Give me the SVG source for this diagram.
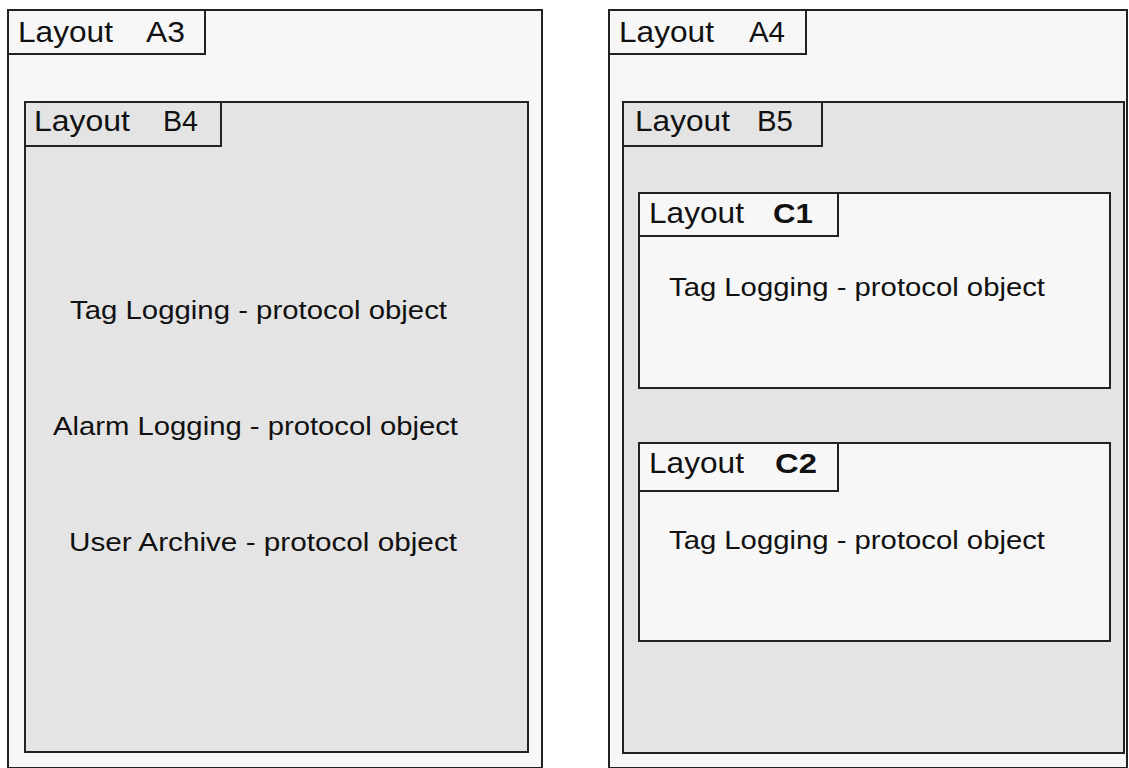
<svg xmlns="http://www.w3.org/2000/svg" width="1129" height="768" viewBox="0 0 1129 768">
<style>
.outer{fill:#f7f7f7;stroke:#222;stroke-width:2}
.mid{fill:#e4e4e4;stroke:#222;stroke-width:2}
.inner{fill:#f7f7f7;stroke:#222;stroke-width:2}
.lbl{font-family:"Liberation Sans",Arial,sans-serif;font-size:29px;fill:#111}
.lblb{font-family:"Liberation Sans",Arial,sans-serif;font-size:28px;font-weight:bold;fill:#111}
.body{font-family:"Liberation Sans",Arial,sans-serif;font-size:26.5px;fill:#111}
</style>
<rect width="1129" height="768" fill="#ffffff"/>
<g id="layoutA3">
<rect class="outer" x="8" y="10" width="534" height="758"/>
<rect class="outer" x="8" y="10" width="197" height="44"/>
<text class="lbl" x="18" y="42" textLength="95" lengthAdjust="spacingAndGlyphs">Layout</text>
<text class="lbl" x="146" y="42" textLength="39" lengthAdjust="spacingAndGlyphs">A3</text>
</g>
<g id="layoutB4">
<rect class="mid" x="25" y="102" width="503" height="650"/>
<rect class="mid" x="25" y="102" width="196" height="44"/>
<text class="lbl" x="34" y="131" textLength="96" lengthAdjust="spacingAndGlyphs">Layout</text>
<text class="lbl" x="163" y="131" textLength="35" lengthAdjust="spacingAndGlyphs">B4</text>
<text class="body" x="70" y="319" textLength="377" lengthAdjust="spacingAndGlyphs">Tag Logging - protocol object</text>
<text class="body" x="53" y="435" textLength="405" lengthAdjust="spacingAndGlyphs">Alarm Logging - protocol object</text>
<text class="body" x="69" y="551" textLength="388" lengthAdjust="spacingAndGlyphs">User Archive - protocol object</text>
</g>
<g id="layoutA4">
<rect class="outer" x="609" y="10" width="518" height="758"/>
<rect class="outer" x="609" y="10" width="197" height="44"/>
<text class="lbl" x="619" y="42" textLength="95" lengthAdjust="spacingAndGlyphs">Layout</text>
<text class="lbl" x="749" y="42" textLength="36" lengthAdjust="spacingAndGlyphs">A4</text>
</g>
<g id="layoutB5">
<rect class="mid" x="623" y="102" width="501" height="651"/>
<rect class="mid" x="623" y="102" width="199" height="44"/>
<text class="lbl" x="635" y="131" textLength="95" lengthAdjust="spacingAndGlyphs">Layout</text>
<text class="lbl" x="757" y="131" textLength="36" lengthAdjust="spacingAndGlyphs">B5</text>
</g>
<g id="layoutC1">
<rect class="inner" x="639" y="193" width="471" height="195"/>
<rect class="inner" x="639" y="193" width="199" height="43"/>
<text class="lbl" x="649" y="223" textLength="95" lengthAdjust="spacingAndGlyphs">Layout</text>
<text class="lblb" x="773" y="223" textLength="40" lengthAdjust="spacingAndGlyphs">C1</text>
<text class="body" x="669" y="296" textLength="376" lengthAdjust="spacingAndGlyphs">Tag Logging - protocol object</text>
</g>
<g id="layoutC2">
<rect class="inner" x="639" y="443" width="471" height="198"/>
<rect class="inner" x="639" y="443" width="199" height="48"/>
<text class="lbl" x="649" y="473" textLength="95" lengthAdjust="spacingAndGlyphs">Layout</text>
<text class="lblb" x="775" y="473" textLength="42" lengthAdjust="spacingAndGlyphs">C2</text>
<text class="body" x="669" y="549" textLength="376" lengthAdjust="spacingAndGlyphs">Tag Logging - protocol object</text>
</g>
<g id="connectors"></g>
</svg>
